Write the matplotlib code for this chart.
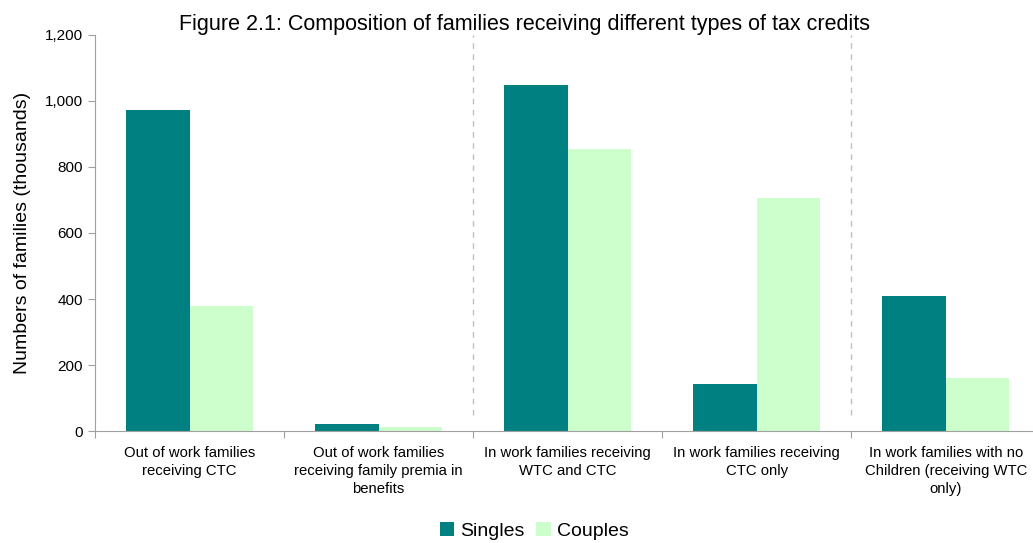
import numpy as np
from matplotlib import pyplot as plt

plt.rcParams['font.family'] = ['Liberation Sans', 'DejaVu Sans']

# Chart data
categories = ['Out of work families\nreceiving CTC',
              'Out of work families\nreceiving family premia in\nbenefits',
              'In work families receiving\nWTC and CTC',
              'In work families receiving\nCTC only',
              'In work families with no\nChildren (receiving WTC\nonly)']
singles = [972, 21, 1048, 142, 409]
couples = [379, 12, 855, 706, 161]
divider_pos = [1.5, 3.5]

fig = plt.figure(figsize=(10.33, 5.43), dpi=100)
ax = fig.add_axes([0.092, 0.206, 0.915, 0.73])

X = np.arange(len(categories))
w = 0.335
ax.bar(X - w / 2, singles, w, color='#008080', label='Singles')
ax.bar(X + w / 2, couples, w, color='#ccffcc', label='Couples')

for d in divider_pos:
	ax.plot([d, d], [50, 1200], color='#c0c0c0', linestyle=(0, (4, 4)), linewidth=1)

ax.set_xlim(-0.5, 4.5)
ax.set_ylim(0, 1200)
ax.set_yticks(np.arange(0, 1201, 200))
ax.set_yticklabels(['{:,}'.format(v) for v in range(0, 1201, 200)])
ax.set_xticks(np.arange(-0.5, 4.6, 1), minor=False)
ax.set_xticklabels([])
ax.set_xticks(X, minor=True)
ax.set_xticklabels(categories, minor=True, fontsize=10.7, linespacing=1.35)
ax.tick_params(axis='x', which='minor', length=0, pad=11)
ax.tick_params(axis='x', which='major', length=5, color='#a0a0a0')
ax.tick_params(axis='y', length=5, color='#a0a0a0', labelsize=11)

for s in ['top', 'right']:
	ax.spines[s].set_visible(False)
ax.spines['left'].set_color('#a0a0a0')
ax.spines['bottom'].set_color('#a0a0a0')

ax.set_ylabel('Numbers of families (thousands)', fontsize=14, labelpad=10)
fig.text(0.508, 0.955, 'Figure 2.1: Composition of families receiving different types of tax credits',
         ha='center', va='center', fontsize=15.5)

fig.legend(loc='center', bbox_to_anchor=(0.517, 0.022), ncol=2, frameon=False,
           fontsize=14, handlelength=0.75, handleheight=0.75, handletextpad=0.3,
           columnspacing=0.6)

fig.savefig('out.png', dpi=100)
